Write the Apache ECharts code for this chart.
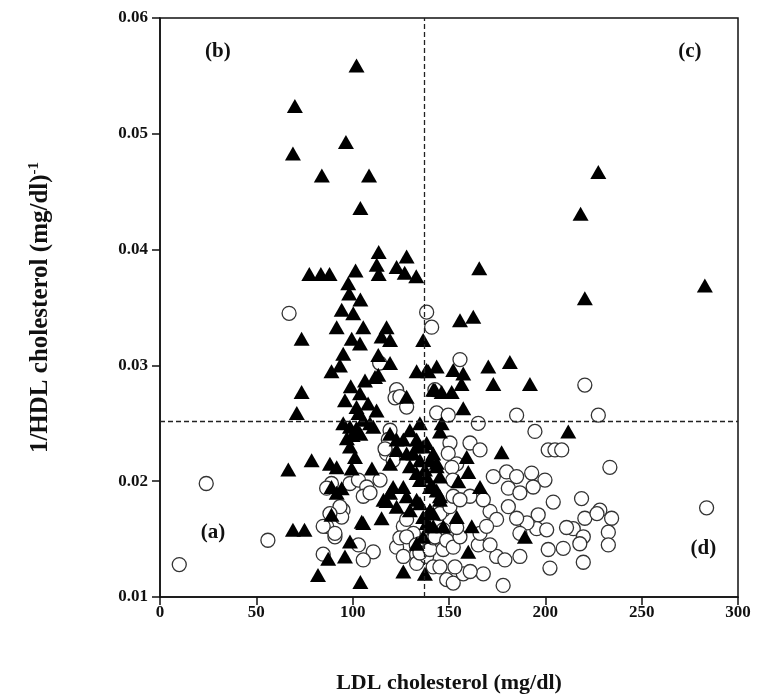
<!DOCTYPE html>
<html><head><meta charset="utf-8">
<script src="https://cdn.jsdelivr.net/npm/echarts@6/dist/echarts.min.js"></script>
<style>html,body{margin:0;padding:0;background:#fff}#c{width:759px;height:700px}</style>
</head><body><div id="c"></div>
<script>
const xTicks = [0, 50, 100, 150, 200, 250, 300];
const yTicks = [0.01, 0.02, 0.03, 0.04, 0.05, 0.06];
const xName = 'LDL cholesterol (mg/dl)';
const yName = '1/HDL cholesterol (mg/dl)';
const yNameSup = '-1';
const cutX = 137;
const cutY = 0.0252;
const quadrantLabels = [
  {text: '(a)', x: 27.5, y: 0.0156},
  {text: '(b)', x: 30, y: 0.0571},
  {text: '(c)', x: 275, y: 0.0571},
  {text: '(d)', x: 282, y: 0.0142}
];
const triangles = [
[102,0.0559],[70,0.0524],[96.5,0.0493],[69,0.0483],[84,0.0464],[108.5,0.0464],[104,0.0436],
[77.5,0.0379],[83.5,0.0379],[88,0.0379],[101.5,0.0382],[113.5,0.0398],[112.5,0.0387],[113.5,0.0379],[128,0.0394],[122.8,0.0385],[127,0.0380],[133,0.0377],
[97.7,0.0371],[98.2,0.0362],[104,0.0357],[94.3,0.0348],[100.3,0.0345],
[91.7,0.0333],[105.5,0.0333],[117.6,0.0333],[99.5,0.0323],[103.8,0.0319],[115,0.0325],[119.4,0.0322],[136.6,0.0322],[73.5,0.0323],
[95.1,0.0310],[113.3,0.0309],[119.4,0.0302],[89,0.0295],[93.4,0.0300],[133.2,0.0295],[139.3,0.0295],[143.6,0.0299],[106.4,0.0287],[111.6,0.0290],[113.3,0.0292],
[103.8,0.0276],[108,0.0267],[102,0.0264],[128,0.0273],[141.8,0.0279],[146.2,0.0277],[112.4,0.0261],[73.5,0.0277],[71,0.0259],
[96,0.0270],[99,0.0282],[100,0.0240],[97,0.0237],[104,0.0241],
[95.1,0.0250],[98.6,0.0247],[105.5,0.0253],[109,0.0250],[103,0.0259],[110.7,0.0247],[102,0.0246],
[66.6,0.0210],[78.7,0.0218],[88.2,0.0215],[91.7,0.0212],[89,0.0195],[94.3,0.0194],[91.7,0.0190],[89,0.0171],[69,0.0158],[75,0.0158],[105.5,0.0164],[115,0.0168],[98.6,0.0148],[87.3,0.0133],[96,0.0135],[82,0.0119],[104,0.0113],[126.3,0.0122],[137.5,0.0120],
[99.5,0.0211],[110,0.0211],[98.6,0.0230],[101.2,0.0221],[104.7,0.0165],
[119.4,0.0215],[122.8,0.0227],[126.3,0.0236],[129.7,0.0244],[134.9,0.0250],[128,0.0224],[133.2,0.0230],[134.9,0.0218],[138.4,0.0233],[141.8,0.0224],[143.6,0.0216],[137.5,0.0210],[133.2,0.0207],
[121,0.0195],[117.6,0.0183],[122.8,0.0178],[128,0.0187],[129.7,0.0175],[134.9,0.0181],[136.6,0.0169],[140.1,0.0175],[140.1,0.0161],[136.6,0.0152],[133.2,0.0146],
[145.3,0.0204],[143.6,0.0192],
[119.4,0.0241],[122.8,0.0236],[131.5,0.0224],[133.2,0.0236],
[129.7,0.0213],[134.9,0.0201],[140.1,0.0195],[145.3,0.0187],[141.8,0.0172],[138.4,0.0164],[147,0.0161],[133.2,0.0184],[126.3,0.0195],[119.4,0.0190],[116,0.0184],
[227.5,0.0467],[218.3,0.0431],[165.7,0.0384],[282.8,0.0369],[220.5,0.0358],
[155.7,0.0339],[162.6,0.0342],[138.4,0.0296],[152.2,0.0296],[157.4,0.0293],[170.4,0.0299],[181.6,0.0303],[173,0.0284],[192,0.0284],[156.5,0.0284],[142.7,0.0279],[151.4,0.0277],[157.4,0.0263],[146.2,0.0250],[145.3,0.0243],[211.9,0.0243],[177.3,0.0225],[159.2,0.0221],[160,0.0208],[154.8,0.0200],[166.1,0.0195],[154,0.0169],[161.8,0.0161],[160,0.0139],[189.4,0.0152],
[136.6,0.0230],[140.1,0.0218],[143.6,0.0213],[138.4,0.0204],[141.8,0.0195],[145.3,0.0184],[140.1,0.0175],[141.8,0.0161]
];
const circles = [
[67,0.0345],[24,0.0198],[56,0.0149],[10,0.0128],[138.4,0.0346],[141,0.0333],[122.8,0.0279],[122,0.0272],[128,0.0264],[142.7,0.0279],[143.6,0.0259],[114,0.0302],[124.5,0.0273],
[119.4,0.0233],[117.6,0.0224],[121,0.0218],[98.6,0.0198],[103,0.0201],[107.3,0.0195],[114.2,0.0201],[105.5,0.0187],[109,0.0190],[89,0.0198],[86.5,0.0194],[95,0.0175],[94.3,0.0169],[86.5,0.0161],[90.8,0.0152],[84.7,0.0137],[103,0.0145],[110.7,0.0139],[105.5,0.0132],
[122.8,0.0143],[126.3,0.0135],[133.2,0.0137],[133.2,0.0129],[138.4,0.0135],[141.8,0.0126],[145.3,0.0126],[126.3,0.0161],[131.5,0.0155],[134.9,0.0146],[148.8,0.0115],
[119.4,0.0244],[118.5,0.0236],[116.8,0.0228],[93.4,0.0178],[88.2,0.0172],[90.8,0.0155],[84.7,0.0161],
[128,0.0167],[124.5,0.0151],[128,0.0152],[133,0.0145],[134.9,0.0138],[140.1,0.0141],[141.8,0.0151],
[147,0.0175],[147,0.0158],[147,0.0141],
[155.7,0.0305],[149.6,0.0257],[220.5,0.0283],[185.1,0.0257],[227.5,0.0257],[165.2,0.0250],[194.6,0.0243],[201.5,0.0227],[205,0.0227],[208.5,0.0227],[233.5,0.0212],[283.7,0.0177],
[150.5,0.0233],[160.9,0.0233],[166.1,0.0227],[149.6,0.0224],[154,0.0215],[151.5,0.0212],
[173,0.0204],[179.9,0.0208],[185.1,0.0204],[192.9,0.0207],[199.8,0.0201],[204.1,0.0182],[180.8,0.0194],[186.8,0.0190],[193.7,0.0195],[218.8,0.0185],[228.3,0.0175],[234.4,0.0168],[232.7,0.0156],[232.7,0.0145],
[220.5,0.0168],[214.5,0.0159],[219.7,0.0152],[217.9,0.0146],[219.7,0.0130],[209.3,0.0142],[201.5,0.0141],[202.4,0.0125],[196.3,0.0171],[195.5,0.0159],[200.7,0.0158],
[190.5,0.0164],[211,0.0160],[226.8,0.0172],
[171.3,0.0174],[174.7,0.0167],[180.8,0.0178],[185.1,0.0168],[186.8,0.0155],[165.2,0.0145],[174.7,0.0135],[179,0.0132],[186.8,0.0135],[167.8,0.0120],[178.1,0.0110],[152.2,0.0112],[157.4,0.0120],[153.1,0.0126],
[142.7,0.0152],[148.8,0.0149],[152.2,0.0143],[145.3,0.0172],[150.5,0.0178],[152.2,0.0187],[160.9,0.0187],[167.8,0.0184],[166.1,0.0155],[169.5,0.0161],[171.3,0.0145],[155.7,0.0152],
[161,0.0122],[152,0.0201],[155.7,0.0184],[154,0.0160]
];

const FONT = '"Liberation Serif", "DejaVu Serif", serif';
const chart = echarts.init(document.getElementById('c'));
chart.setOption({
  animation: false,
  backgroundColor: '#fff',
  grid: {left: 160, right: 21, top: 18, bottom: 103, show: true, borderColor: '#111', borderWidth: 1.5},
  xAxis: {
    type: 'value', min: xTicks[0], max: xTicks[xTicks.length-1], interval: 50,
    name: xName, nameLocation: 'middle', nameGap: 75,
    nameTextStyle: {fontFamily: FONT, fontWeight: 'bold', fontSize: 22, color: '#111'},
    axisLine: {show: true, lineStyle: {color: '#111', width: 1.5}},
    axisTick: {show: true, length: 8, lineStyle: {color: '#111', width: 1.5}},
    axisLabel: {fontFamily: FONT, fontWeight: 'bold', fontSize: 17, color: '#111', margin: 7},
    splitLine: {show: false}
  },
  yAxis: {
    type: 'value', min: yTicks[0], max: yTicks[yTicks.length-1], interval: 0.01,
    name: yName + '{sup|' + yNameSup + '}', nameLocation: 'middle', nameGap: 106, nameRotate: 90,
    nameTextStyle: {fontFamily: FONT, fontWeight: 'bold', fontSize: 25, color: '#111',
      rich: {sup: {fontFamily: FONT, fontWeight: 'bold', fontSize: 15, color: '#111', verticalAlign: 'top', padding: [0,0,12,0]}}},
    axisLine: {show: true, lineStyle: {color: '#111', width: 1.5}},
    axisTick: {show: true, length: 8, lineStyle: {color: '#111', width: 1.5}},
    axisLabel: {fontFamily: FONT, fontWeight: 'bold', fontSize: 17, color: '#111', margin: 12,
      formatter: v => v.toFixed(2)},
    splitLine: {show: false}
  },
  series: [
    {
      type: 'scatter', data: circles, symbol: 'circle', symbolSize: 14, z: 2,
      itemStyle: {color: '#fff', borderColor: '#333', borderWidth: 1.3, opacity: 1},
      markLine: {
        silent: true, precision: 5, symbol: ['none', 'none'], label: {show: false},
        lineStyle: {color: '#222', type: [5, 3], width: 1.3, opacity: 1},
        data: [{xAxis: cutX}, {yAxis: cutY}]
      }
    },
    {
      type: 'scatter', data: triangles, symbol: 'triangle', symbolSize: [16, 14], z: 3,
      itemStyle: {color: '#000', opacity: 1}
    },
    {
      type: 'scatter', symbolSize: 1, z: 4, silent: true,
      itemStyle: {color: 'rgba(0,0,0,0)', opacity: 1},
      data: quadrantLabels.map(d => ({value: [d.x, d.y], name: d.text})),
      label: {show: true, position: 'inside', formatter: p => p.name, opacity: 1,
        fontFamily: FONT, fontWeight: 'bold', fontSize: 21, color: '#111'}
    }
  ]
});
</script></body></html>
